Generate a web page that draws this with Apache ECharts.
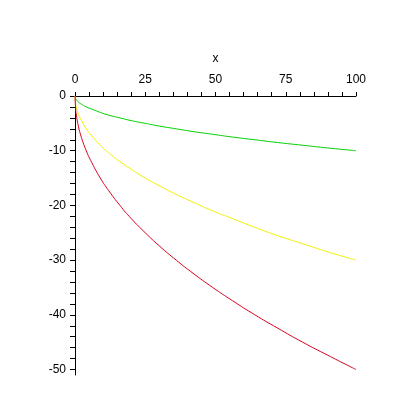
<!DOCTYPE html>
<html>
<head>
<meta charset="utf-8">
<script src="https://cdn.jsdelivr.net/npm/echarts@6/dist/echarts.min.js"></script>
<style>
html,body{margin:0;padding:0;background:#fff;}
#chart{width:398px;height:398px;}
</style>
</head>
<body>
<div id="chart"></div>
<script>
var xs = [0, 0.25, 0.5, 1, 2, 4, 6, 9, 12, 16, 20, 25, 30, 36, 42, 49, 56, 64, 72, 81, 90, 100];
var greenVals  = [0, -0.5, -0.7, -1, -1.4, -2, -2.4, -3, -3.5, -4, -4.5, -5, -5.5, -6, -6.5, -7, -7.5, -8, -8.5, -9, -9.5, -10];
var yellowVals = [0, -1.5, -2.1, -3, -4.2, -6, -7.3, -9, -10.4, -12, -13.4, -15, -16.4, -18, -19.4, -21, -22.4, -24, -25.5, -27, -28.5, -30];
var redVals    = [0, -2.5, -3.5, -5, -7.1, -10, -12.2, -15, -17.3, -20, -22.4, -25, -27.4, -30, -32.4, -35, -37.4, -40, -42.4, -45, -47.4, -50];

var xTicks = [0,5,10,15,20,25,30,35,40,45,50,55,60,65,70,75,80,85,90,95,100];
var xLabels = [0,25,50,75,100];
var yTicks = [0,-2,-4,-6,-8,-10,-12,-14,-16,-18,-20,-22,-24,-26,-28,-30,-32,-34,-36,-38,-40,-42,-44,-46,-48,-50];
var yLabels = [0,-10,-20,-30,-40,-50];

function pairs(v){
  return xs.map(function(x,i){ return [x, v[i]]; });
}

var myChart = echarts.init(document.getElementById('chart'));
myChart.setOption({
  animation:false,
  grid:{left:75,right:42,top:96,bottom:23},
  textStyle:{fontFamily:'Liberation Sans'},
  xAxis:{
    type:'value',
    position:'top',
    min:0,max:100,
    name:'x',
    nameLocation:'middle',
    nameGap:31,
    nameTextStyle:{color:'#000',fontSize:12},
    axisLine:{onZero:false,lineStyle:{color:'#000',width:1}},
    axisTick:{show:true,length:4,customValues:xTicks,lineStyle:{color:'#000'}},
    axisLabel:{customValues:xLabels,color:'#000',fontSize:12,margin:10},
    splitLine:{show:false}
  },
  yAxis:{
    type:'value',
    min:-51,max:0,
    axisLine:{onZero:false,lineStyle:{color:'#000',width:1}},
    axisTick:{show:true,length:5,customValues:yTicks,lineStyle:{color:'#000'}},
    axisLabel:{customValues:yLabels,color:'#000',fontSize:12,margin:9},
    splitLine:{show:false}
  },
  series:[
    {type:'line',data:pairs(greenVals),showSymbol:false,smooth:true,lineStyle:{color:'#00d000',width:1}},
    {type:'line',data:pairs(yellowVals),showSymbol:false,smooth:true,lineStyle:{color:'#f0f000',width:1}},
    {type:'line',data:pairs(redVals),showSymbol:false,smooth:true,lineStyle:{color:'#d8001c',width:1}}
  ]
})
</script>
</body>
</html>
